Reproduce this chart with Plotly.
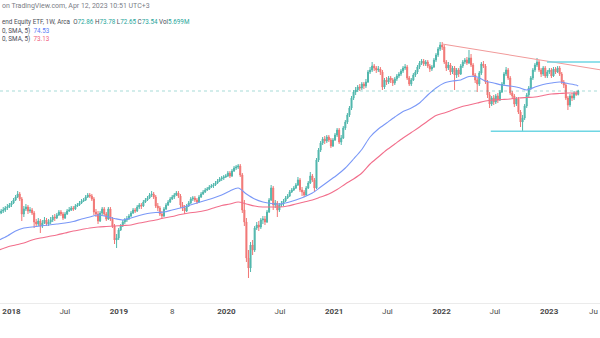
import pandas as pd
import plotly.graph_objects as go

# Weekly bars, Monday stamps, Nov 2017 - Apr 2023
week_dates = pd.date_range("2017-11-20", periods=282, freq="7D")

open_p = [
    48.74, 49.14, 49.54, 49.74, 50.14, 50.34, 50.74, 51.14, 51.74, 52.34,
    52.94, 51.94, 48.94, 49.94, 50.34, 49.54, 49.74, 49.14, 47.34, 46.94,
    47.54, 46.54, 47.14, 47.74, 46.94, 47.34, 47.74, 48.34, 48.14, 48.74,
    49.34, 48.94, 48.14, 48.94, 49.54, 49.74, 50.14, 49.94, 50.54, 50.74,
    51.14, 51.54, 51.74, 52.34, 52.74, 52.54, 51.94, 49.34, 48.94, 47.54,
    49.14, 49.94, 48.94, 47.94, 49.94, 47.94, 46.54, 43.74, 44.14, 45.74,
    46.54, 47.34, 47.74, 47.94, 48.54, 49.14, 49.74, 49.54, 50.34, 50.74,
    50.54, 51.34, 51.74, 52.14, 52.74, 52.94, 52.34, 50.54, 50.14, 48.94,
    48.54, 49.94, 50.74, 51.34, 51.94, 52.34, 52.74, 53.14, 52.54, 50.74,
    50.14, 49.54, 50.54, 51.14, 51.94, 52.14, 51.74, 51.34, 52.34, 52.94,
    53.34, 53.74, 53.94, 54.34, 54.54, 54.74, 55.14, 55.54, 55.94, 56.14,
    56.34, 56.54, 57.14, 56.54, 57.54, 58.14, 58.34, 58.54, 56.74, 49.74,
    47.34, 40.14, 38.14, 42.74, 41.74, 46.14, 46.74, 46.34, 47.74, 47.94,
    47.34, 49.34, 51.74, 54.14, 50.74, 51.14, 49.74, 50.74, 50.94, 51.54,
    52.14, 52.54, 53.34, 53.74, 54.14, 54.74, 55.74, 53.74, 53.34, 52.74,
    54.14, 55.14, 56.54, 55.74, 54.14, 59.74, 61.74, 63.14, 63.94, 63.54,
    64.34, 63.74, 62.54, 63.74, 64.74, 65.74, 63.34, 64.14, 66.14, 67.34,
    68.74, 70.14, 72.14, 73.34, 73.74, 74.34, 74.14, 74.94, 74.54, 75.34,
    77.34, 77.74, 78.54, 78.14, 77.74, 77.94, 77.34, 74.34, 75.74, 75.34,
    76.14, 75.74, 75.14, 75.94, 76.54, 76.94, 77.54, 78.14, 78.34, 76.14,
    74.94, 75.74, 76.74, 77.34, 78.34, 79.14, 79.54, 78.94, 79.34, 78.54,
    77.94, 78.34, 79.74, 80.74, 81.94, 82.74, 82.34, 79.34, 78.14, 78.74,
    77.34, 78.14, 76.74, 77.74, 76.94, 78.54, 79.34, 79.74, 79.14, 80.14,
    78.74, 76.74, 75.74, 74.94, 77.14, 78.94, 78.54, 75.34, 72.74, 70.94,
    72.14, 71.34, 72.54, 71.74, 73.34, 74.94, 76.94, 77.74, 76.14, 73.14,
    72.54, 70.94, 71.94, 69.34, 67.34, 68.14, 70.54, 72.74, 74.14, 76.14,
    77.74, 78.74, 79.34, 77.74, 76.94, 78.14, 76.54, 77.34, 77.74, 76.54,
    77.94, 77.34, 78.14, 76.94, 75.34, 74.74, 72.14, 70.74, 72.54, 72.14,
    73.14, 72.86,
]

high_p = [
    49.54, 49.94, 50.34, 50.54, 50.94, 51.14, 51.54, 52.14, 52.74, 53.54,
    53.34, 52.34, 50.54, 50.94, 50.74, 50.34, 50.14, 49.54, 47.94, 48.14,
    47.94, 47.74, 48.34, 48.14, 47.94, 48.34, 48.74, 48.94, 49.14, 49.74,
    49.74, 49.34, 49.34, 49.94, 50.34, 50.54, 50.54, 50.94, 51.14, 51.54,
    51.94, 52.14, 52.74, 53.14, 53.14, 52.94, 52.34, 49.94, 49.54, 49.54,
    50.34, 50.34, 49.34, 50.34, 50.34, 48.34, 46.94, 44.94, 46.14, 46.94,
    47.74, 48.14, 48.54, 48.94, 49.54, 50.14, 50.14, 50.74, 51.14, 51.14,
    51.74, 52.14, 52.54, 53.14, 53.54, 53.34, 52.74, 51.14, 50.54, 49.54,
    50.34, 51.14, 51.74, 52.34, 52.74, 53.14, 53.54, 53.54, 52.94, 51.34,
    50.74, 50.94, 51.54, 52.34, 52.54, 52.54, 52.14, 52.74, 53.34, 53.74,
    54.14, 54.34, 54.74, 54.94, 55.14, 55.54, 55.94, 56.34, 56.54, 56.74,
    56.94, 57.54, 57.54, 57.94, 58.54, 58.74, 58.94, 58.94, 57.14, 51.74,
    48.14, 41.74, 43.34, 43.74, 46.54, 47.34, 47.54, 48.14, 48.54, 48.54,
    49.74, 52.14, 54.74, 54.54, 51.74, 51.54, 51.14, 51.54, 51.94, 52.54,
    52.94, 53.74, 54.14, 54.54, 55.14, 56.34, 56.14, 54.34, 53.74, 54.54,
    55.54, 57.34, 56.94, 56.14, 60.14, 62.14, 63.54, 64.34, 64.54, 64.74,
    64.74, 64.14, 64.14, 65.14, 66.14, 66.14, 64.74, 66.54, 67.74, 69.14,
    70.54, 72.54, 73.74, 74.34, 74.74, 74.94, 75.34, 75.34, 75.94, 77.74,
    78.34, 79.34, 78.94, 78.54, 78.54, 78.34, 77.74, 76.14, 76.34, 76.54,
    76.54, 76.14, 76.34, 76.94, 77.34, 77.94, 78.54, 78.94, 78.74, 76.54,
    76.14, 77.14, 77.74, 78.74, 79.54, 79.94, 79.94, 79.74, 79.74, 78.94,
    78.74, 80.14, 81.14, 82.34, 83.34, 83.34, 82.74, 79.74, 79.34, 79.14,
    78.54, 78.54, 78.14, 78.14, 78.94, 79.74, 80.14, 80.34, 81.74, 80.94,
    79.14, 77.14, 76.14, 77.54, 79.34, 79.54, 78.94, 75.74, 73.34, 72.54,
    72.74, 72.94, 73.14, 73.74, 75.34, 77.34, 78.34, 78.14, 76.54, 73.54,
    72.94, 72.34, 72.34, 69.74, 68.74, 70.94, 73.14, 74.54, 76.54, 78.14,
    79.14, 80.14, 79.74, 78.14, 78.54, 78.54, 77.74, 78.14, 78.14, 78.34,
    78.34, 78.54, 78.54, 77.34, 75.74, 75.14, 72.54, 72.94, 73.14, 73.54,
    73.54, 73.78,
]

low_p = [
    48.54, 48.94, 49.14, 49.34, 49.74, 50.14, 50.34, 50.94, 51.54, 52.14,
    51.54, 47.54, 48.34, 49.54, 48.94, 49.14, 48.74, 46.14, 46.34, 46.54,
    45.14, 46.14, 46.94, 46.54, 46.54, 46.94, 47.34, 47.54, 47.94, 48.54,
    48.54, 47.74, 47.94, 48.74, 49.34, 49.54, 49.54, 49.74, 50.34, 50.54,
    50.94, 51.34, 51.54, 52.14, 52.14, 51.54, 48.74, 48.34, 46.94, 47.34,
    48.74, 48.54, 47.54, 47.74, 47.54, 46.14, 42.94, 42.14, 43.74, 45.54,
    46.34, 46.94, 47.34, 47.74, 48.34, 48.94, 49.14, 49.34, 49.94, 49.94,
    50.34, 51.14, 51.54, 51.94, 52.34, 51.94, 50.14, 49.54, 48.54, 47.94,
    48.34, 49.74, 50.54, 51.14, 51.74, 51.94, 52.54, 52.14, 50.14, 49.54,
    48.94, 49.34, 50.34, 50.94, 51.54, 51.34, 50.94, 51.14, 52.14, 52.74,
    53.14, 53.54, 53.74, 54.14, 54.14, 54.54, 54.94, 55.34, 55.54, 55.74,
    56.14, 56.34, 56.14, 56.34, 57.34, 57.74, 57.94, 56.34, 49.14, 46.54,
    39.34, 36.14, 37.34, 40.74, 41.34, 45.74, 45.54, 45.94, 46.94, 46.74,
    47.14, 49.14, 51.54, 49.74, 50.14, 48.34, 49.34, 50.34, 50.54, 51.34,
    51.94, 52.34, 53.14, 53.54, 53.94, 54.54, 53.34, 52.54, 52.34, 52.54,
    53.94, 54.94, 55.34, 53.34, 53.94, 59.34, 61.34, 62.74, 62.94, 63.14,
    63.34, 62.14, 62.34, 63.54, 64.34, 62.94, 62.74, 63.94, 65.74, 66.94,
    68.34, 69.74, 71.74, 72.74, 73.34, 73.54, 73.74, 73.94, 74.14, 75.14,
    76.94, 77.34, 77.54, 77.14, 77.34, 76.74, 73.74, 73.94, 74.74, 74.94,
    75.14, 74.54, 74.74, 75.54, 76.14, 76.54, 77.14, 77.74, 75.74, 74.54,
    74.54, 75.54, 76.34, 76.94, 77.94, 78.74, 78.54, 78.54, 78.14, 77.34,
    77.54, 78.14, 79.34, 80.34, 81.54, 81.74, 78.94, 77.54, 77.74, 76.74,
    76.94, 73.74, 76.14, 76.34, 76.74, 78.14, 78.94, 78.74, 78.94, 78.34,
    76.34, 75.14, 73.34, 74.54, 76.74, 78.14, 74.94, 72.14, 70.14, 70.54,
    70.74, 70.94, 71.14, 71.54, 73.14, 74.54, 76.54, 75.74, 72.74, 71.94,
    70.34, 70.54, 68.94, 66.34, 65.54, 67.74, 70.14, 72.34, 73.74, 75.74,
    77.34, 78.34, 77.34, 76.34, 76.54, 76.14, 76.14, 76.94, 76.14, 76.34,
    76.94, 77.14, 76.54, 74.94, 74.14, 71.74, 69.74, 70.34, 71.54, 71.74,
    72.54, 72.65,
]

close_p = [
    49.14, 49.54, 49.74, 50.14, 50.34, 50.74, 51.14, 51.74, 52.34, 52.94,
    51.94, 48.94, 49.94, 50.34, 49.54, 49.74, 49.14, 47.34, 46.94, 47.54,
    46.54, 47.14, 47.74, 46.94, 47.34, 47.74, 48.34, 48.14, 48.74, 49.34,
    48.94, 48.14, 48.94, 49.54, 49.74, 50.14, 49.94, 50.54, 50.74, 51.14,
    51.54, 51.74, 52.34, 52.74, 52.54, 51.94, 49.34, 48.94, 47.54, 49.14,
    49.94, 48.94, 47.94, 49.94, 47.94, 46.54, 43.74, 44.14, 45.74, 46.54,
    47.34, 47.74, 47.94, 48.54, 49.14, 49.74, 49.54, 50.34, 50.74, 50.54,
    51.34, 51.74, 52.14, 52.74, 52.94, 52.34, 50.54, 50.14, 48.94, 48.54,
    49.94, 50.74, 51.34, 51.94, 52.34, 52.74, 53.14, 52.54, 50.74, 50.14,
    49.54, 50.54, 51.14, 51.94, 52.14, 51.74, 51.34, 52.34, 52.94, 53.34,
    53.74, 53.94, 54.34, 54.54, 54.74, 55.14, 55.54, 55.94, 56.14, 56.34,
    56.54, 57.14, 56.54, 57.54, 58.14, 58.34, 58.54, 56.74, 49.74, 47.34,
    40.14, 38.14, 42.74, 41.74, 46.14, 46.74, 46.34, 47.74, 47.94, 47.34,
    49.34, 51.74, 54.14, 50.74, 51.14, 49.74, 50.74, 50.94, 51.54, 52.14,
    52.54, 53.34, 53.74, 54.14, 54.74, 55.74, 53.74, 53.34, 52.74, 54.14,
    55.14, 56.54, 55.74, 54.14, 59.74, 61.74, 63.14, 63.94, 63.54, 64.34,
    63.74, 62.54, 63.74, 64.74, 65.74, 63.34, 64.14, 66.14, 67.34, 68.74,
    70.14, 72.14, 73.34, 73.74, 74.34, 74.14, 74.94, 74.54, 75.34, 77.34,
    77.74, 78.54, 78.14, 77.74, 77.94, 77.34, 74.34, 75.74, 75.34, 76.14,
    75.74, 75.14, 75.94, 76.54, 76.94, 77.54, 78.14, 78.34, 76.14, 74.94,
    75.74, 76.74, 77.34, 78.34, 79.14, 79.54, 78.94, 79.34, 78.54, 77.94,
    78.34, 79.74, 80.74, 81.94, 82.74, 82.34, 79.34, 78.14, 78.74, 77.34,
    78.14, 76.74, 77.74, 76.94, 78.54, 79.34, 79.74, 79.14, 80.14, 78.74,
    76.74, 75.74, 74.94, 77.14, 78.94, 78.54, 75.34, 72.74, 70.94, 72.14,
    71.34, 72.54, 71.74, 73.34, 74.94, 76.94, 77.74, 76.14, 73.14, 72.54,
    70.94, 71.94, 69.34, 67.34, 68.14, 70.54, 72.74, 74.14, 76.14, 77.74,
    78.74, 79.34, 77.74, 76.94, 78.14, 76.54, 77.34, 77.74, 76.54, 77.94,
    77.34, 78.14, 76.94, 75.34, 74.74, 72.14, 70.74, 72.54, 72.14, 73.14,
    72.86, 73.54,
]

# Moving averages, read every 4th week plus the last bar
ma_fast = [
    43.74, 44.54, 45.54, 46.14, 46.34, 46.54, 46.74, 46.94, 47.14, 47.44,
    47.94, 48.34, 48.74, 48.44, 48.04, 47.74, 48.14, 48.64, 49.04, 49.24,
    49.34, 49.74, 50.14, 50.64, 51.14, 51.64, 52.14, 52.74, 53.54, 54.14,
    52.94, 51.94, 51.34, 51.04, 50.94, 51.24, 51.74, 52.34, 53.14, 54.34,
    55.54, 56.74, 58.14, 59.94, 61.84, 64.34, 65.94, 67.14, 68.34, 69.44,
    70.14, 71.14, 72.74, 74.14, 75.14, 75.54, 75.74, 76.44, 76.34, 75.54,
    75.14, 74.74, 74.54, 74.24, 73.74, 74.34, 74.84, 75.14, 75.34, 75.04,
    74.74, 74.53,
]
ma_slow = [
    41.74, 42.34, 42.74, 43.14, 43.74, 44.14, 44.44, 44.74, 45.14, 45.54,
    45.84, 46.14, 46.34, 46.44, 46.54, 46.64, 46.74, 47.14, 47.44, 47.74,
    48.14, 48.44, 48.84, 49.14, 49.34, 49.64, 50.14, 50.64, 50.94, 51.34,
    50.94, 50.54, 50.34, 50.34, 50.34, 50.54, 50.94, 51.34, 51.74, 52.34,
    52.94, 53.84, 54.94, 55.94, 57.14, 58.94, 60.34, 61.74, 62.94, 64.14,
    65.24, 66.34, 67.54, 68.64, 69.14, 69.74, 70.34, 70.74, 71.14, 71.54,
    71.74, 71.84, 71.94, 72.14, 72.24, 72.34, 72.64, 72.94, 73.04, 73.14,
    73.14, 73.13,
]
ma_dates = list(week_dates[::4]) + [week_dates[-1]]

# Drawn levels
trend_pts = (["2022-01-03", "2023-06-23"], [82.94, 77.80])
resistance = ("2022-12-25", 79.34)
support = ("2022-06-17", 65.50)
last_close = 73.54

tick_vals = ["2018-01-01", "2018-07-01", "2019-01-01", "2019-07-01",
             "2020-01-01", "2020-07-01", "2021-01-01", "2021-07-01",
             "2022-01-01", "2022-07-01", "2023-01-01"]
tick_text = ["<b>2018</b>", "Jul", "<b>2019</b>", "8", "<b>2020</b>", "Jul",
             "<b>2021</b>", "Jul", "<b>2022</b>", "Jul", "<b>2023</b>"]

UP = "#3aaea2"
DOWN = "#f06462"
FONT = "Roboto"

fig = go.Figure()
fig.add_trace(go.Candlestick(
    x=week_dates, open=open_p, high=high_p, low=low_p, close=close_p,
    increasing=dict(line=dict(color=UP, width=1), fillcolor=UP),
    decreasing=dict(line=dict(color=DOWN, width=1), fillcolor=DOWN),
    whiskerwidth=0, hoverinfo="skip", opacity=0.88,
))
fig.add_trace(go.Scatter(x=ma_dates, y=ma_fast, mode="lines",
                         line=dict(color="#7a98f7", width=1.1, shape="spline", smoothing=0.8),
                         hoverinfo="skip"))
fig.add_trace(go.Scatter(x=ma_dates, y=ma_slow, mode="lines",
                         line=dict(color="#f26f8c", width=1.1, shape="spline", smoothing=0.8),
                         hoverinfo="skip"))
fig.add_trace(go.Scatter(x=trend_pts[0], y=trend_pts[1], mode="lines",
                         line=dict(color="#f19a9a", width=1.1), hoverinfo="skip"))

shapes = [
    dict(type="line", xref="paper", x0=0, x1=1, yref="y", y0=last_close, y1=last_close,
         line=dict(color="rgba(38,166,154,0.4)", width=1, dash="dot")),
    dict(type="line", xref="x", x0=resistance[0], x1="2023-06-23", yref="y",
         y0=resistance[1], y1=resistance[1], line=dict(color="#6fd6e3", width=1.4)),
    dict(type="line", xref="x", x0=support[0], x1="2023-06-23", yref="y",
         y0=support[1], y1=support[1], line=dict(color="#6fd6e3", width=1.4)),
]

PLOT_H = 303.0


def py(pix):
    return 1 - pix / PLOT_H


annotations = [
    dict(text="on TradingView.com, Apr 12, 2023 10:51 UTC+3", x=0.0, y=py(6),
         font=dict(size=7, color="#7a7d86")),
    dict(text=("end Equity ETF, 1W, Arca  O<span style='color:#26a69a'>72.86</span> "
               "H<span style='color:#26a69a'>73.78</span> L<span style='color:#26a69a'>72.65</span> "
               "C<span style='color:#26a69a'>73.54</span> Vol<span style='color:#26a69a'>5.699M</span>"),
         x=0.0, y=py(22), font=dict(size=6.3, color="#4a4d57")),
    dict(text="0, SMA, 5)  <span style='color:#5b7cf5'>74.53</span>", x=0.0, y=py(31),
         font=dict(size=6.3, color="#4a4d57")),
    dict(text="0, SMA, 5)  <span style='color:#f0607e'>73.13</span>", x=0.0, y=py(39),
         font=dict(size=6.3, color="#4a4d57")),
    dict(text="Ju", x=1.0, y=py(311), xanchor="right",
         font=dict(size=8, color="#4a4a4a")),
]
for a in annotations:
    a.setdefault("xanchor", "left")
    a.update(xref="paper", yref="paper", yanchor="middle", showarrow=False,
             font=dict(family=FONT, **a["font"]))

fig.update_layout(
    width=600, height=338,
    margin=dict(l=0, r=0, t=0, b=35),
    paper_bgcolor="white", plot_bgcolor="white",
    showlegend=False,
    shapes=shapes,
    annotations=annotations,
    xaxis=dict(type="date", range=["2017-11-23", "2023-06-23"],
               rangeslider=dict(visible=False),
               tickvals=tick_vals, ticktext=tick_text, ticks="",
               tickfont=dict(family=FONT, size=8, color="#4a4a4a"),
               showgrid=False, zeroline=False,
               showline=True, linecolor="#ebebeb", linewidth=1),
    yaxis=dict(range=[31.14, 91.74], visible=False, showgrid=False, zeroline=False),
)

fig.write_html("out.html")
